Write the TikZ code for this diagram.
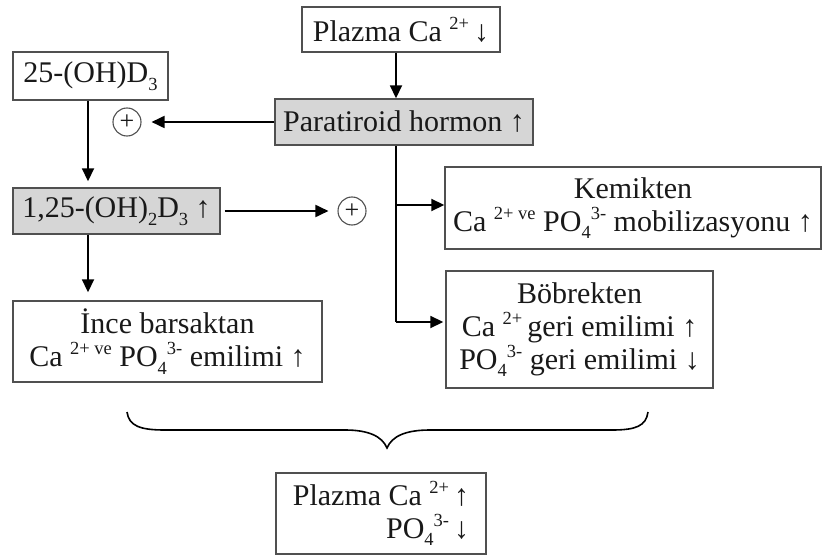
\documentclass[tikz,border=0pt]{standalone}
\usepackage{fontspec}
\setmainfont{Liberation Serif}
\usetikzlibrary{arrows.meta}
\definecolor{fillgray}{RGB}{214,214,214}
\definecolor{boxline}{RGB}{80,80,80}
\definecolor{txt}{RGB}{25,25,25}
\newcommand\SupT[1]{\raisebox{0.40em}{\fontsize{18.5}{18.5}\selectfont #1}}
\newcommand\SubT[1]{\raisebox{-0.25em}{\fontsize{18.5}{18.5}\selectfont #1}}
\begin{document}
\begin{tikzpicture}[x=1pt,y=-1pt,
  every node/.style={font=\fontsize{30}{33}\selectfont, text=txt},
  box/.style={draw=boxline, line width=1.4pt, inner sep=0pt, align=center},
  gbox/.style={box, fill=fillgray},
  pluscirc/.style={circle, draw=boxline, line width=1.1pt, minimum size=28pt, inner sep=0pt, font=\fontsize{26}{26}\selectfont},
  arr/.style={line width=1.8pt, -{Triangle[length=13pt,width=12pt]}},
  plain/.style={line width=1.8pt}]
\useasboundingbox (0,0) rectangle (824,556);
\node[box, minimum width=198pt, minimum height=45pt] (top) at (401,29.5) {Plazma Ca \SupT{2+}\,↓};
\node[gbox, minimum width=258pt, minimum height=46pt] (pth) at (404,122) {Paratiroid hormon ↑};
\node[box, minimum width=155pt, minimum height=48pt] (d25) at (90.5,76) {25-(OH)D\SubT{3}};
\node[gbox, minimum width=207pt, minimum height=46pt] (d125) at (116.5,211) {1,25-(OH)\SubT{2}D\SubT{3} ↑};
\node[box, minimum width=376pt, minimum height=82pt] (kem) at (633,208) {Kemikten\\Ca \SupT{2+ ve} PO\SubT{4}\SupT{3-} mobilizasyonu ↑};
\node[box, minimum width=267pt, minimum height=117pt] (bob) at (579.5,329.5) {Böbrekten\\Ca \SupT{2+}\,geri emilimi ↑\\PO\SubT{4}\SupT{3-} geri emilimi ↓};
\node[box, minimum width=309pt, minimum height=81pt] (ince) at (167.5,341.5) {İnce barsaktan\\Ca \SupT{2+ ve} PO\SubT{4}\SupT{3-} emilimi ↑};
\node[box, minimum width=210pt, minimum height=81pt, align=right] (res) at (381,513.5) {Plazma Ca \SupT{2+}\,↑\\PO\SubT{4}\SupT{3-}\,↓};
\node[pluscirc] (p1) at (127,122) {+};
\node[pluscirc] (p2) at (352,211) {+};
\coordinate (trunk) at (396,0);
\coordinate (dcol) at (88,0);
\coordinate (jk) at (396,205);
\coordinate (jb) at (396,322);
\draw[arr] (top.south -| trunk) -- (pth.north -| trunk);
\draw[arr, shorten >=10pt] (pth.west) -- (p1.east);
\draw[arr, shorten >=6pt] (d25.south -| dcol) -- (d125.north -| dcol);
\draw[arr, shorten <=4pt, shorten >=9pt] (d125.east) -- (p2.west);
\draw[arr, shorten >=8pt] (d125.south -| dcol) -- (ince.north -| dcol);
\draw[plain] (pth.south -| trunk) -- (jb);
\draw[arr] (jk) -- (jk -| kem.west);
\draw[arr, shorten >=2pt] (jb) -- (jb -| bob.west);
\coordinate (bl) at (127,412);
\coordinate (br) at (648,412);
\coordinate (btip) at (387,448);
\draw[line width=1.6pt] (bl) .. controls (129,426) and (140,430) .. (165,430) -- (345,430) .. controls (368,430) and (382,436) .. (btip) .. controls (392,436) and (406,430) .. (430,430) -- (612,430) .. controls (636,430) and (646,426) .. (br);
\end{tikzpicture}
\end{document}
